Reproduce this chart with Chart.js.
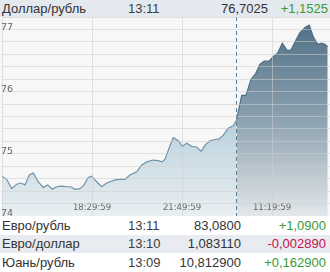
<!DOCTYPE html>
<html>
<head>
<meta charset="utf-8">
<script src="https://cdn.jsdelivr.net/npm/chart.js@4/dist/chart.umd.min.js"></script>
<style>
body{margin:0;width:330px;height:272px;overflow:hidden;background:#fff;font-family:"Liberation Sans",Arial,sans-serif;font-size:13px;color:#333}
.row{position:relative;height:18px;line-height:18px}
.row span{position:absolute;top:0;white-space:nowrap}
.head{background:#e4e9ef;height:17px;line-height:17px}
.alt{background:#e8ebef}
.n{left:2px}
.t{left:128px;color:#3c3c3c}
.v{right:89px}
.head .v{right:62px}
.c{right:4px}
.head .c{right:2px}
.up{color:#3a9a35}
.down{color:#c8104a}
#box{height:199px}
</style>
</head>
<body>
<div class="row head"><span class="n">Доллар/рубль</span><span class="t">13:11</span><span class="v">76,7025</span><span class="c up">+1,1525</span></div>
<div id="box"><canvas id="chart" width="330" height="199"></canvas></div>
<div class="row" style="height:19px;line-height:19px"><span class="n">Евро/рубль</span><span class="t">13:11</span><span class="v">83,0800</span><span class="c up">+1,0900</span></div>
<div class="row alt"><span class="n">Евро/доллар</span><span class="t">13:10</span><span class="v">1,083110</span><span class="c down">-0,002890</span></div>
<div class="row" style="height:19px;line-height:19px"><span class="n">Юань/рубль</span><span class="t">13:09</span><span class="v">10,812900</span><span class="c up">+0,162900</span></div>

<script>
// posicion en el eje (unidades de muestra) y cotizacion
const pos = [0, 0.94, 1.94, 2.94, 3.74, 4.6, 5.46, 6.26, 7.26, 8.26, 9.14, 10.06, 10.94, 11.94, 12.94, 13.74, 14.6, 15.6, 16.4, 17.26,
  17.94, 18.94, 19.94, 20.94, 22.6, 23.6, 24.6, 25.6, 26.94, 27.94, 28.94, 30.26, 31.26, 31.94, 32.6, 33.4, 34.26, 35.26, 36.06, 36.94,
  37.94, 38.94, 39.8, 40.6, 41.6, 42.6, 43.4, 44.26, 45.26, 46.26, 46.94, 47.94, 48.8, 49.8, 50.74, 51.6, 52.46, 53.4, 54.26, 55.14,
  56.06, 57.06, 57.8, 58.6, 59.6, 60.6, 61.46, 62.26, 63.14, 63.94, 64.6, 65.14];
const rate = [74.64, 74.59, 74.44, 74.51, 74.53, 74.50, 74.66, 74.69, 74.55, 74.46, 74.50, 74.43, 74.47, 74.48, 74.47, 74.47, 74.43, 74.44, 74.50, 74.62,
  74.64, 74.55, 74.47, 74.53, 74.58, 74.59, 74.59, 74.66, 74.71, 74.82, 74.87, 74.90, 74.89, 74.87, 74.91, 75.09, 75.26, 75.21, 75.12, 75.17,
  75.12, 75.11, 75.04, 75.14, 75.21, 75.23, 75.24, 75.30, 75.41, 75.45, 75.55, 75.94, 75.94, 76.20, 76.29, 76.44, 76.49, 76.49, 76.56, 76.62,
  76.78, 76.66, 76.67, 76.80, 76.95, 77.03, 77.07, 76.88, 76.76, 76.78, 76.76, 76.72];
const todayStart = 50;     // primer punto del dia de hoy
const dayBreak = 46.86;    // linea discontinua
const xTickPos = [18, 36, 54];
const xLabels = ["18:29:59", "21:49:59", "11:19:59"];
const yLabels = [74, 75, 76, 77];

function puntos(desde, hasta) {
    let arr = [];
    for (let i = desde; i < hasta; i++) {
        arr.push({ x: pos[i], y: rate[i] });
    }
    return arr;
}

function degradado(chart, stops) {
    const area = chart.chartArea;
    if (!area) return null;
    const g = chart.ctx.createLinearGradient(0, area.top, 0, area.bottom);
    stops.forEach(s => g.addColorStop(s[0], s[1]));
    return g;
}

// sin margen extra para las etiquetas de los extremos
function sinPadding(s) {
    s.paddingTop = 0;
    s.paddingBottom = 0;
    s.paddingLeft = 0;
    s.paddingRight = 0;
}

const extras = {
    id: "extras",
    beforeDraw(chart) {
        const c = chart.ctx;
        c.save();
        c.fillStyle = "#f7f7f7";
        c.fillRect(0, 0, chart.width, chart.height);
        c.restore();
    },
    afterDatasetsDraw(chart) {
        const c = chart.ctx;
        const sx = chart.scales.x;
        const x = Math.round(sx.getPixelForValue(dayBreak)) + 0.5;
        c.save();
        c.strokeStyle = "#5a7d95";
        c.lineWidth = 1;
        c.setLineDash([4, 3]);
        c.beginPath();
        c.moveTo(x, 0);
        c.lineTo(x, chart.height);
        c.stroke();
        c.setLineDash([]);
        // etiquetas de hora dentro del area
        c.fillStyle = "#666";
        c.font = "8.5px 'DejaVu Sans'";
        c.textAlign = "center";
        c.textBaseline = "middle";
        xTickPos.forEach((v, i) => {
            c.fillText(xLabels[i], sx.getPixelForValue(v), chart.chartArea.bottom - 8);
        });
        c.restore();
    }
};

const config = {
    type: "line",
    data: {
        datasets: [{
            data: puntos(0, todayStart + 1),
            borderColor: "#7193a8",
            borderWidth: 1.2,
            pointRadius: 0,
            fill: "start",
            backgroundColor: (ctx) => degradado(ctx.chart, [[0, "#86a9bd"], [0.6, "#c2d6e0"], [1, "#e9eff2"]])
        }, {
            data: puntos(todayStart, pos.length),
            borderColor: "#4f6f85",
            borderWidth: 1.2,
            pointRadius: 0,
            fill: "start",
            backgroundColor: (ctx) => degradado(ctx.chart, [[0, "#4e6d84"], [0.5, "#8aa0af"], [1, "#e2e7ea"]])
        }]
    },
    options: {
        responsive: false,
        animation: false,
        devicePixelRatio: 1,
        layout: { padding: { left: 2, right: 0, top: 0, bottom: 0 } },
        plugins: { legend: { display: false }, tooltip: { enabled: false } },
        scales: {
            x: {
                type: "linear",
                min: 0,
                max: 65.6,
                afterFit: (s) => { s.height = 0; sinPadding(s); },
                grid: { color: "rgba(205,205,205,0.55)", drawTicks: false, z: 1 },
                border: { display: false },
                ticks: {
                    display: false,
                    stepSize: xTickPos[0],
                    autoSkip: false
                }
            },
            y: {
                min: yLabels[0],
                max: 77.2,
                afterFit: (s) => { s.width = 0; sinPadding(s); },
                grid: { color: "rgba(205,205,205,0.55)", drawTicks: false, z: 1 },
                border: { display: false },
                ticks: {
                    z: 1,
                    stepSize: 0.2,
                    autoSkip: false,
                    mirror: true,
                    padding: -1,
                    labelOffset: -2,
                    color: "#666",
                    font: { family: "DejaVu Sans", size: 9.5 },
                    callback: (v) => {
                        const r = Math.round(v);
                        return (Math.abs(v - r) < 1e-6 && yLabels.includes(r)) ? String(r) : "";
                    }
                }
            }
        }
    },
    plugins: [extras]
};

const myChart = new Chart("chart", config);
</script>
</body>
</html>
